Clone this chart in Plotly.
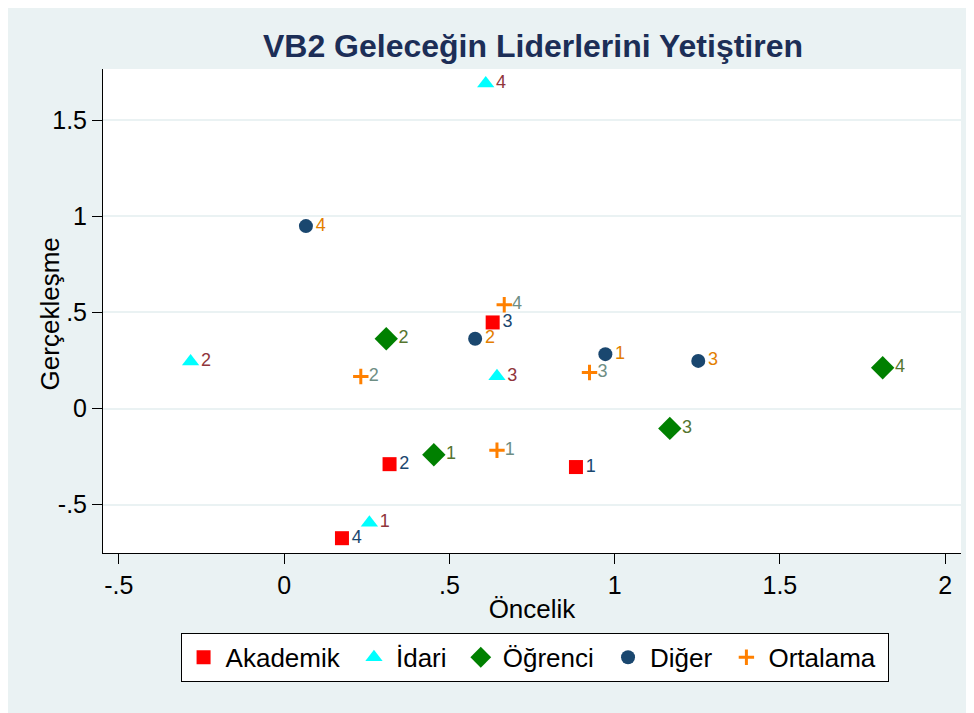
import plotly.graph_objects as go

title_text = "VB2 Geleceğin Liderlerini Yetiştiren"
x_title = "Öncelik"
y_title = "Gerçekleşme"

groups = ["Akademik", "İdari", "Öğrenci", "Diğer", "Ortalama"]
labels = ["1", "2", "3", "4"]

akademik_x = [0.883, 0.319, 0.631, 0.175]
akademik_y = [-0.304, -0.289, 0.448, -0.674]
idari_x = [0.258, -0.283, 0.644, 0.610]
idari_y = [-0.594, 0.245, 0.168, 1.690]
ogrenci_x = [0.453, 0.309, 1.167, 1.811]
ogrenci_y = [-0.240, 0.363, -0.103, 0.212]
diger_x = [0.972, 0.578, 1.253, 0.066]
diger_y = [0.283, 0.363, 0.248, 0.949]
ortalama_x = [0.644, 0.232, 0.924, 0.666]
ortalama_y = [-0.217, 0.167, 0.188, 0.540]

x_ticks = [-0.5, 0, 0.5, 1, 1.5, 2]
x_ticktext = ["-.5", "0", ".5", "1", "1.5", "2"]
y_ticks = [-0.5, 0, 0.5, 1, 1.5]
y_ticktext = ["-.5", "0", ".5", "1", "1.5"]

series = [
    (groups[0], akademik_x, akademik_y, "square", "#ff0000", 14, "#1a476f"),
    (groups[1], idari_x, idari_y, "triangle-up", "#00ffff", 15, "#90353b"),
    (groups[2], ogrenci_x, ogrenci_y, "diamond", "#008000", 18, "#55752f"),
    (groups[3], diger_x, diger_y, "circle", "#1a476f", 14, "#e37e00"),
    (groups[4], ortalama_x, ortalama_y, "cross-thin", "#ff8000", 11, "#6e8e84"),
]

FONT = "Liberation Sans, Arial, sans-serif"
fig = go.Figure()
for name, xs, ys, sym, col, sz, lcol in series:
    marker = dict(symbol=sym, color=col, size=sz)
    if sym == "cross-thin":
        marker["line"] = dict(color=col, width=3)
    else:
        marker["line"] = dict(width=0)
    fig.add_trace(go.Scatter(
        x=xs, y=ys, mode="markers+text", name=name + "\u00a0",
        text=labels, textposition="middle right",
        textfont=dict(family=FONT, size=18, color=lcol),
        marker=marker, cliponaxis=False,
    ))

fig.update_layout(
    width=974, height=713,
    margin=dict(l=95, r=21, t=61, b=168),
    paper_bgcolor="#eaf2f3",
    plot_bgcolor="#ffffff",
    font=dict(family=FONT, size=22, color="#000000"),
    title=dict(text="<b>" + title_text + "</b>", x=0.539, xanchor="center",
               y=0.947, yanchor="middle",
               font=dict(family=FONT, size=32, color="#1c2e57")),
    showlegend=True,
    legend=dict(orientation="h", x=0.503, xanchor="center", y=-0.165, yanchor="top",
                bgcolor="#ffffff", bordercolor="#000000", borderwidth=1,
                font=dict(family=FONT, size=26, color="#000000"),
                itemwidth=34, tracegroupgap=0),
    annotations=[dict(text=y_title, xref="paper", yref="paper", x=0, y=0.493,
                      xshift=-53, textangle=-90, showarrow=False,
                      xanchor="center", yanchor="middle",
                      font=dict(family=FONT, size=26, color="#000000"))],
)
fig.update_xaxes(
    range=[-0.548, 2.048], tickvals=x_ticks, ticktext=x_ticktext,
    showgrid=False, zeroline=False, showline=True, linecolor="#000000", linewidth=1,
    ticks="outside", ticklen=10, tickcolor="#000000", tickwidth=1,
    tickfont=dict(family=FONT, size=25, color="#000000"),
    title=dict(text=x_title, standoff=1, font=dict(family=FONT, size=26, color="#000000")),
)
fig.update_yaxes(
    range=[-0.751, 1.766], tickvals=y_ticks, ticktext=y_ticktext,
    showgrid=True, gridcolor="#eaf2f3", gridwidth=2, zeroline=False,
    showline=True, linecolor="#000000", linewidth=1,
    ticks="outside", ticklen=10, tickcolor="#000000", tickwidth=1,
    tickfont=dict(family=FONT, size=25, color="#000000"),
)

fig.write_html("out.html")
